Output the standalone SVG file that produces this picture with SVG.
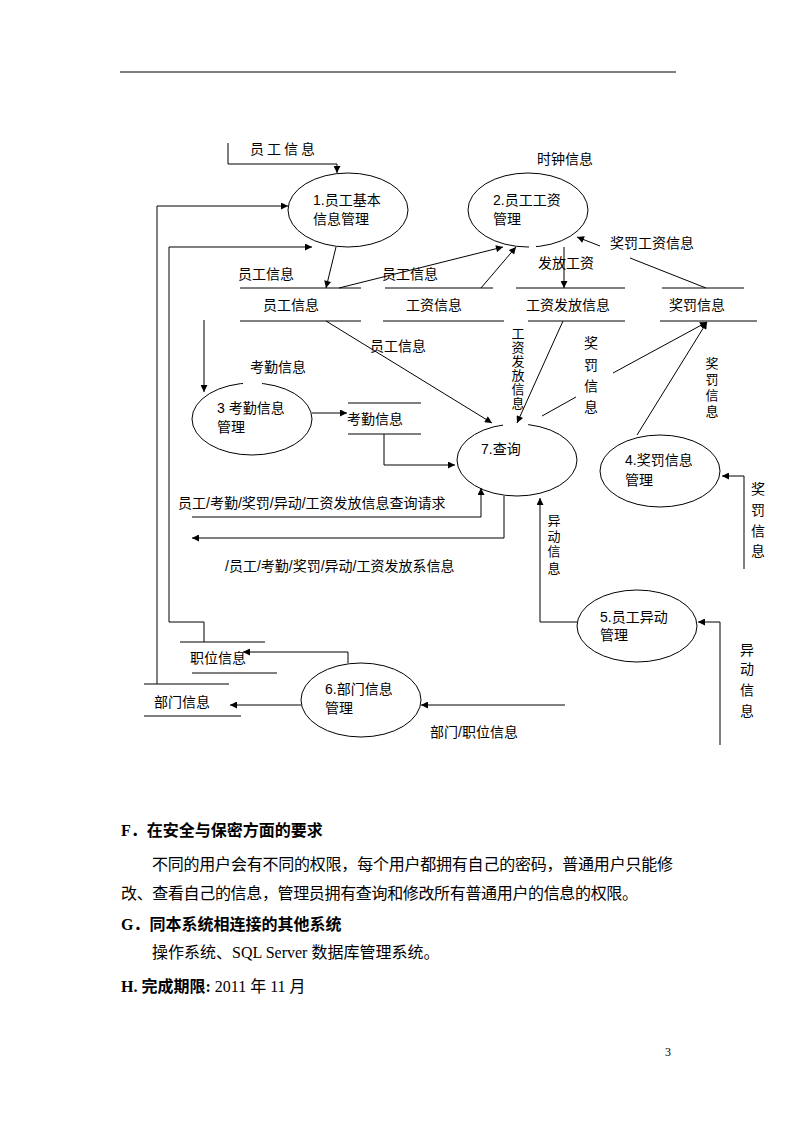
<svg xmlns="http://www.w3.org/2000/svg" width="794" height="1123" viewBox="0 0 794 1123">
<style>
  .bg{fill:#fff}
  .n{fill:none;stroke:#000;stroke-width:1}
  .c{fill:none;stroke:#000;stroke-width:1}
  .a{marker-end:url(#ah)}
  .t{font-family:"Liberation Sans","Noto Sans CJK SC",sans-serif;font-size:14px;fill:#000}
  .tv{font-family:"Liberation Sans","Noto Sans CJK SC",sans-serif;font-size:14px;fill:#000;text-anchor:middle}
  .sm{font-size:13px}
  .b{font-family:"Liberation Serif","Noto Sans CJK SC",serif;font-size:16px;fill:#000}
  .bb{font-weight:bold}
  .gap{fill:#fff;stroke:none}
</style>
<defs>
  <marker id="ah" viewBox="0 0 10 10" refX="10" refY="5" markerWidth="8" markerHeight="7" markerUnits="userSpaceOnUse" orient="auto">
    <path d="M0,0 L10,5 L0,10 z" fill="#000"/>
  </marker>
</defs>
<rect class="bg" x="0" y="0" width="794" height="1123"/>
<line x1="120" y1="72" x2="676" y2="72" stroke="#000" stroke-width="1"/>

<g id="nodes">
  <g id="p1">
    <ellipse class="n" cx="348" cy="210" rx="60" ry="37"/>
    <text class="t" x="313" y="205">1.员工基本</text>
    <text class="t" x="313" y="224">信息管理</text>
  </g>
  <g id="p2">
    <ellipse class="n" cx="528" cy="210" rx="60" ry="37"/>
    <rect class="gap" x="529" y="244" width="7" height="6"/>
    <text class="t" x="493" y="205">2.员工工资</text>
    <text class="t" x="493" y="224">管理</text>
  </g>
  <g id="p3">
    <ellipse class="n" cx="252" cy="419" rx="60" ry="36"/>
    <rect class="gap" x="243" y="380" width="19" height="6"/>
    <text class="t" x="217" y="413">3 考勤信息</text>
    <text class="t" x="217" y="432">管理</text>
  </g>
  <g id="p4">
    <ellipse class="n" cx="660" cy="471" rx="60" ry="36"/>
    <text class="t" x="625" y="465">4.奖罚信息</text>
    <text class="t" x="625" y="485">管理</text>
  </g>
  <g id="p5">
    <ellipse class="n" cx="637" cy="626" rx="60" ry="36"/>
    <text class="t" x="600" y="622">5.员工异动</text>
    <text class="t" x="600" y="640">管理</text>
  </g>
  <g id="p6">
    <ellipse class="n" cx="361" cy="700" rx="60" ry="37"/>
    <text class="t" x="325" y="694">6.部门信息</text>
    <text class="t" x="325" y="713">管理</text>
  </g>
  <g id="p7">
    <ellipse class="n" cx="517" cy="460" rx="60" ry="36"/>
    <rect class="gap" x="503" y="421" width="25" height="6"/>
    <text class="t" x="481" y="454">7.查询</text>
  </g>
  <g id="s-yuangong">
    <line class="n" x1="240" y1="288" x2="361" y2="288"/>
    <line class="n" x1="240" y1="321" x2="361" y2="321"/>
    <text class="t" x="263" y="310">员工信息</text>
  </g>
  <g id="s-gongzi">
    <line class="n" x1="385" y1="288" x2="493" y2="288"/>
    <line class="n" x1="383" y1="321" x2="504" y2="321"/>
    <text class="t" x="406" y="310">工资信息</text>
  </g>
  <g id="s-fafang">
    <line class="n" x1="516" y1="288" x2="625" y2="288"/>
    <line class="n" x1="528" y1="321" x2="625" y2="321"/>
    <text class="t" x="526" y="310">工资发放信息</text>
  </g>
  <g id="s-jiangfa">
    <line class="n" x1="662" y1="288" x2="744" y2="288"/>
    <line class="n" x1="660" y1="321" x2="757" y2="321"/>
    <text class="t" x="669" y="310">奖罚信息</text>
  </g>
  <g id="s-kaoqin">
    <line class="n" x1="348" y1="403" x2="421" y2="403"/>
    <line class="n" x1="348" y1="434" x2="421" y2="434"/>
    <text class="t" x="347" y="424">考勤信息</text>
  </g>
  <g id="s-zhiwei">
    <line class="n" x1="180" y1="642" x2="265" y2="642"/>
    <line class="n" x1="192" y1="673" x2="277" y2="673"/>
    <text class="t" x="190" y="663">职位信息</text>
  </g>
  <g id="s-bumen">
    <line class="n" x1="144" y1="684" x2="229" y2="684"/>
    <line class="n" x1="144" y1="716" x2="241" y2="716"/>
    <text class="t" x="154" y="707">部门信息</text>
  </g>
</g>

<g id="connectors">
  <polyline class="c a" points="228,143 228,164 337,164 337,173"/>
  <polyline class="c a" points="157,684 157,206 288,206"/>
  <polyline class="c a" points="204,642 204,622 169,622 169,247 312,247"/>
  <line class="c a" x1="336" y1="247" x2="326" y2="288"/>
  <line class="c a" x1="339" y1="288" x2="503" y2="247"/>
  <line class="c a" x1="481" y1="288" x2="516" y2="247"/>
  <line class="c a" x1="564" y1="247" x2="564" y2="288"/>
  <line class="c" x1="706" y1="288" x2="630" y2="258"/>
  <line class="c a" x1="600" y1="246" x2="577" y2="237"/>
  <line class="c a" x1="204" y1="320" x2="204" y2="392"/>
  <line class="c a" x1="326" y1="321" x2="492" y2="423"/>
  <line class="c a" x1="312" y1="413" x2="347" y2="413"/>
  <polyline class="c a" points="384,434 384,465 455,465"/>
  <line class="c a" x1="563" y1="321" x2="517" y2="423"/>
  <line class="c" x1="542" y1="416" x2="576" y2="397"/>
  <line class="c a" x1="613" y1="373" x2="707" y2="322"/>
  <line class="c a" x1="637" y1="435" x2="707" y2="322"/>
  <polyline class="c a" points="744,569 744,476 722,476"/>
  <polyline class="c a" points="192,517 481,517 481,488"/>
  <polyline class="c a" points="504,496 504,538 192,538"/>
  <polyline class="c a" points="577,622 540,622 540,498"/>
  <polyline class="c a" points="720,745 720,622 698,622"/>
  <polyline class="c a" points="348,663 348,652 243,652"/>
  <line class="c a" x1="301" y1="705" x2="230" y2="705"/>
  <line class="c a" x1="565" y1="705" x2="421" y2="705"/>

  <text class="t" x="250" y="154" letter-spacing="3">员工信息</text>
  <text class="t" x="537" y="164">时钟信息</text>
  <text class="t" x="238" y="279">员工信息</text>
  <text class="t" x="382" y="279">员工信息</text>
  <text class="t" x="538" y="268">发放工资</text>
  <text class="t" x="610" y="248">奖罚工资信息</text>
  <text class="t" x="370" y="351">员工信息</text>
  <text class="t" x="250" y="372">考勤信息</text>
  <text class="t" x="178" y="508">员工/考勤/奖罚/异动/工资发放信息查询请求</text>
  <text class="t" x="225" y="571">/员工/考勤/奖罚/异动/工资发放系信息</text>
  <text class="t" x="430" y="737">部门/职位信息</text>

  <text class="tv sm" x="518" y="338">工</text>
  <text class="tv sm" x="518" y="352">资</text>
  <text class="tv sm" x="518" y="366">发</text>
  <text class="tv sm" x="518" y="380">放</text>
  <text class="tv sm" x="518" y="394">信</text>
  <text class="tv sm" x="518" y="408">息</text>

  <text class="tv" x="591" y="348">奖</text>
  <text class="tv" x="591" y="370">罚</text>
  <text class="tv" x="591" y="391">信</text>
  <text class="tv" x="591" y="412">息</text>

  <text class="tv sm" x="712" y="368">奖</text>
  <text class="tv sm" x="712" y="384">罚</text>
  <text class="tv sm" x="712" y="400">信</text>
  <text class="tv sm" x="712" y="416">息</text>

  <text class="tv" x="758" y="494">奖</text>
  <text class="tv" x="758" y="515">罚</text>
  <text class="tv" x="758" y="536">信</text>
  <text class="tv" x="758" y="556">息</text>

  <text class="tv sm" x="554" y="525">异</text>
  <text class="tv sm" x="554" y="541">动</text>
  <text class="tv sm" x="554" y="556">信</text>
  <text class="tv sm" x="554" y="573">息</text>

  <text class="tv" x="747" y="655">异</text>
  <text class="tv" x="747" y="674">动</text>
  <text class="tv" x="747" y="695">信</text>
  <text class="tv" x="747" y="716">息</text>
</g>

<g id="body">
  <text class="b bb" x="121" y="836">F．在安全与保密方面的要求</text>
  <text class="b" x="152" y="870" textLength="521" lengthAdjust="spacing">不同的用户会有不同的权限，每个用户都拥有自己的密码，普通用户只能修</text>
  <text class="b" x="121" y="899" textLength="517" lengthAdjust="spacing">改、查看自己的信息，管理员拥有查询和修改所有普通用户的信息的权限。</text>
  <text class="b bb" x="121" y="930">G．同本系统相连接的其他系统</text>
  <text class="b" x="152" y="958">操作系统、SQL Server 数据库管理系统。</text>
  <text class="b" x="121" y="992"><tspan class="bb">H. 完成期限:</tspan> 2011 年 11 月</text>
  <text class="b" x="665" y="1056" style="font-size:12px">3</text>
</g>
</svg>
